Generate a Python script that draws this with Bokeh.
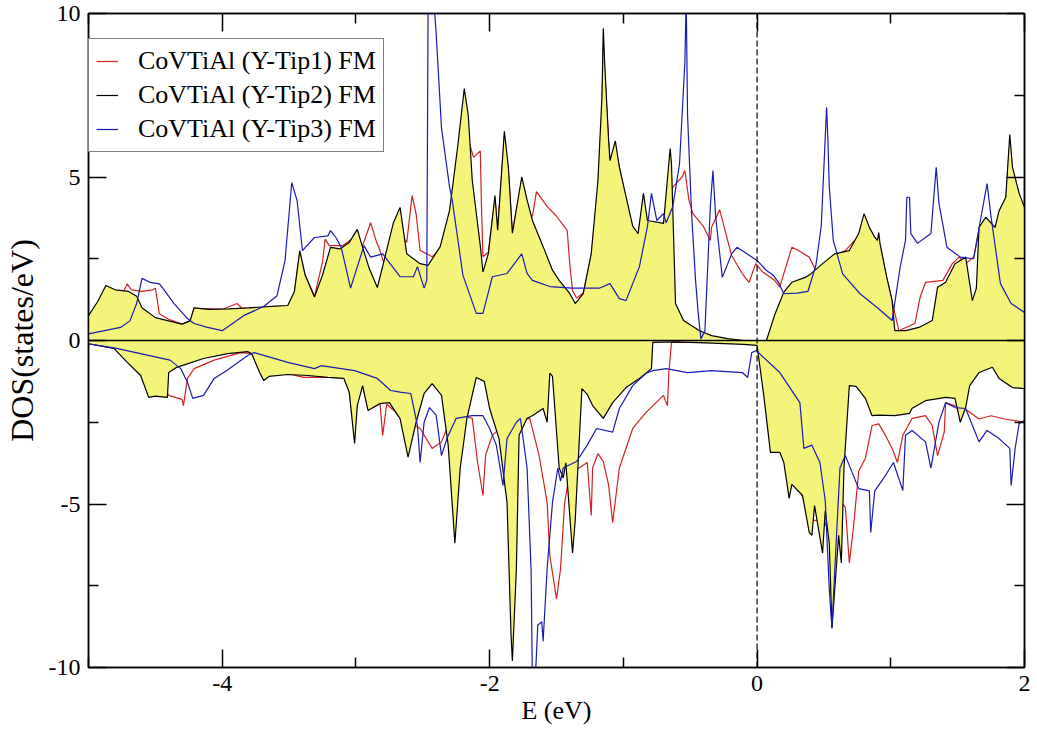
from bokeh.plotting import figure
from bokeh.models import Range1d, LinearAxis, FixedTicker, Span, Legend, LegendItem
from bokeh.embed import file_html
from bokeh.resources import INLINE

# ---------------- data ----------------
SERIES_NAMES = ["CoVTiAl (Y-Tip1) FM", "CoVTiAl (Y-Tip2) FM", "CoVTiAl (Y-Tip3) FM"]

TIP1_UP_E = [-5.00, -4.93, -4.87, -4.80, -4.74, -4.71, -4.68, -4.60, -4.52, -4.50, -4.47, -4.40, -4.30, -4.24, -4.21,
             -4.00, -3.89, -3.85, -3.60, -3.51, -3.46, -3.42, -3.38, -3.31, -3.25, -3.23, -3.20, -3.10, -3.00, -2.95,
             -2.89, -2.85, -2.82, -2.79, -2.72, -2.67, -2.62, -2.58, -2.55, -2.52, -2.47, -2.43, -2.35, -2.31, -2.28,
             -2.22, -2.15, -2.12, -2.07, -2.06, -2.05, -2.01, -1.96, -1.94, -1.89, -1.86, -1.83, -1.76, -1.72, -1.68,
             -1.65, -1.57, -1.50, -1.42, -1.40, -1.38, -1.35, -1.30, -1.24, -1.19, -1.16, -1.15, -1.13, -1.10, -1.06,
             -0.98, -0.93, -0.89, -0.85, -0.82, -0.70, -0.66, -0.63, -0.56, -0.54, -0.51, -0.48, -0.40, -0.35, -0.34,
             -0.28, -0.22, -0.19, -0.11, -0.06, -0.01, 0.04, 0.13, 0.17, 0.26, 0.31, 0.39, 0.44, 0.50, 0.58, 0.66,
             0.76, 0.80, 0.84, 0.90, 0.92, 0.97, 1.01, 1.06, 1.18, 1.22, 1.26, 1.39, 1.46, 1.51, 1.56, 1.62, 1.66,
             1.71, 1.78, 1.81, 1.86, 1.89, 1.91, 1.96, 2.00]
TIP1_UP_DOS = [0.70, 1.15, 1.60, 1.50, 1.50, 1.73, 1.55, 1.50, 1.55, 1.60, 0.82, 0.65, 0.50, 0.60, 0.98,
               0.95, 1.13, 0.98, 1.03, 1.05, 1.45, 2.70, 2.00, 1.35, 2.40, 3.10, 2.90, 2.90, 3.20, 2.90,
               3.60, 3.06, 2.75, 2.35, 2.50, 3.27, 3.00, 4.43, 3.88, 2.75, 2.65, 2.56, 2.87, 3.67, 4.40,
               5.50, 6.00, 5.60, 5.80, 3.90, 2.56, 2.70, 4.30, 3.40, 6.20, 5.20, 3.30, 4.90, 3.90, 3.80,
               4.55, 4.10, 3.80, 3.37, 2.30, 1.53, 1.30, 1.45, 2.60, 4.60, 7.00, 9.00, 7.50, 5.40, 5.90,
               4.30, 3.40, 3.20, 4.30, 3.60, 3.50, 4.20, 4.70, 5.00, 5.20, 4.30, 3.88, 3.48, 3.06, 3.46,
               4.00, 3.06, 2.60, 2.04, 1.78, 2.35, 2.10, 1.84, 1.64, 2.85, 2.75, 2.55, 2.14, 2.30, 2.60, 2.75,
               3.20, 3.80, 3.40, 3.00, 2.90, 1.90, 1.20, 0.30, 0.52, 1.33, 1.78, 1.84, 2.35, 2.55, 2.35, 2.55, 3.40,
               3.70, 3.40, 3.90, 4.30, 6.00, 5.20, 4.40, 4.00]

TIP1_DN_E = [-5.00, -4.80, -4.60, -4.50, -4.45, -4.40, -4.30, -4.29, -4.26, -4.21, -4.06, -3.86, -3.78, -3.70,
             -3.50, -3.39, -3.21, -3.09, -3.05, -3.02, -2.99, -2.95, -2.91, -2.82, -2.80, -2.77, -2.67, -2.60,
             -2.52, -2.43, -2.36, -2.30, -2.20, -2.13, -2.09, -2.05, -2.03, -1.98, -1.90, -1.80, -1.70, -1.63,
             -1.57, -1.55, -1.50, -1.47, -1.44, -1.40, -1.33, -1.27, -1.24, -1.23, -1.19, -1.15, -1.11, -1.08,
             -1.03, -0.93, -0.83, -0.70, -0.67, -0.66, -0.64, -0.30, 0.00, 0.02, 0.05, 0.10, 0.20, 0.30, 0.40,
             0.50, 0.55, 0.60, 0.64, 0.66, 0.69, 0.72, 0.76, 0.81, 0.86, 0.91, 0.96, 1.01, 1.05, 1.09, 1.16,
             1.26, 1.31, 1.35, 1.40, 1.41, 1.48, 1.56, 1.66, 1.75, 1.85, 2.00]
TIP1_DN_DOS = [-0.10, -0.24, -0.45, -0.80, -1.30, -1.68, -1.80, -1.99, -1.16, -0.86, -0.60, -0.37, -0.40, -1.05,
               -1.02, -1.13, -1.12, -1.14, -1.50, -2.60, -1.90, -1.35, -2.10, -1.90, -2.90, -1.95, -2.30, -2.50,
               -2.69, -3.30, -3.10, -2.50, -2.30, -2.38, -3.73, -4.74, -3.50, -2.90, -2.60, -2.40, -2.38, -3.52,
               -4.95, -6.58, -7.90, -7.00, -5.00, -4.00, -3.90, -3.73, -5.35, -3.90, -3.46, -3.70, -4.43, -5.57,
               -3.90, -2.69, -2.20, -1.68, -2.00, -0.98, -0.06, -0.05, -0.10, -0.40, -1.50, -3.20, -3.50, -4.30, -5.50,
               -5.50, -6.00, -5.50, -5.00, -5.10, -6.80, -5.75, -4.00, -3.60, -2.60, -2.55, -2.90, -3.30, -3.73, -2.90, -2.38,
               -2.30, -2.60, -3.52, -2.80, -1.90, -2.00, -2.10, -2.40, -2.30, -2.40, -2.50]

TIP2_UP_E = [-5.00, -4.93, -4.87, -4.80, -4.70, -4.64, -4.60, -4.50, -4.40, -4.30, -4.24, -4.21, -4.10, -3.95,
             -3.80, -3.60, -3.51, -3.46, -3.42, -3.38, -3.31, -3.25, -3.19, -3.12, -3.05, -2.99, -2.95, -2.90,
             -2.84, -2.78, -2.72, -2.67, -2.62, -2.52, -2.46, -2.37, -2.30, -2.24, -2.19, -2.16, -2.13, -2.07,
             -2.05, -2.01, -1.96, -1.94, -1.89, -1.86, -1.83, -1.76, -1.72, -1.68, -1.60, -1.53, -1.48, -1.40,
             -1.36, -1.30, -1.24, -1.19, -1.16, -1.15, -1.14, -1.11, -1.10, -1.06, -1.03, -0.98, -0.93, -0.89,
             -0.85, -0.82, -0.70, -0.65, -0.64, -0.61, -0.55, -0.43, -0.34, -0.22, -0.10, 0.07, 0.135, 0.20,
             0.26, 0.36, 0.39, 0.49, 0.58, 0.69, 0.76, 0.80, 0.84, 0.88, 0.90, 0.91, 0.92, 0.97, 1.01, 1.03,
             1.11, 1.21, 1.31, 1.35, 1.41, 1.48, 1.56, 1.61, 1.64, 1.66, 1.71, 1.78, 1.81, 1.86, 1.89, 1.90,
             1.91, 1.96, 2.00]
TIP2_UP_DOS = [0.76, 1.20, 1.68, 1.55, 1.50, 1.35, 1.00, 0.70, 0.60, 0.50, 0.60, 1.00, 0.95, 0.97,
               1.00, 1.05, 1.07, 1.50, 2.75, 2.00, 1.33, 2.00, 2.85, 2.80, 3.00, 3.40, 2.85, 2.20,
               1.62, 2.60, 3.60, 4.07, 2.65, 2.35, 2.30, 2.87, 3.97, 5.90, 7.70, 6.90, 4.90, 2.90,
               2.10, 2.65, 4.43, 3.37, 6.40, 5.30, 3.28, 5.00, 4.30, 3.67, 2.87, 2.15, 1.84, 1.43,
               1.13, 1.43, 2.66, 4.90, 7.45, 9.55, 8.50, 6.10, 5.50, 6.10, 5.30, 4.40, 3.50, 3.27,
               4.50, 3.67, 3.58, 5.87, 5.40, 1.13, 0.61, 0.30, 0.15, 0.06, 0.00, 0.00, 0.82, 1.48,
               1.78, 1.93, 2.00, 2.35, 2.65, 2.75, 3.27, 3.88, 3.46, 3.16, 3.06, 3.30, 2.95, 1.93, 1.22, 0.30,
               0.30, 0.40, 0.61, 1.63, 1.78, 2.35, 2.55, 1.22, 1.60, 3.46, 3.77, 3.46, 3.97, 4.38, 6.30, 5.80,
               5.30, 4.50, 4.07]

TIP2_DN_E = [-5.00, -4.81, -4.71, -4.61, -4.55, -4.50, -4.41, -4.40, -4.34, -4.14, -3.96, -3.81, -3.78, -3.72,
             -3.69, -3.65, -3.51, -3.36, -3.21, -3.09, -3.05, -3.01, -2.99, -2.95, -2.91, -2.82, -2.75, -2.67,
             -2.61, -2.55, -2.49, -2.43, -2.36, -2.31, -2.26, -2.22, -2.17, -2.10, -2.04, -2.00, -1.93, -1.87,
             -1.84, -1.83, -1.80, -1.78, -1.72, -1.68, -1.60, -1.57, -1.55, -1.53, -1.48, -1.45, -1.43, -1.38,
             -1.36, -1.31, -1.27, -1.23, -1.15, -1.08, -0.98, -0.88, -0.83, -0.79, -0.78, -0.60, -0.34, -0.10,
             0.00, 0.01, 0.05, 0.10, 0.17, 0.20, 0.24, 0.26, 0.34, 0.39, 0.41, 0.43, 0.49, 0.51, 0.54, 0.56,
             0.59, 0.61, 0.63, 0.65, 0.69, 0.74, 0.81, 0.86, 0.91, 1.03, 1.14, 1.16, 1.26, 1.41, 1.48, 1.52,
             1.56, 1.59, 1.66, 1.76, 1.81, 1.91, 2.00]
TIP2_DN_DOS = [-0.10, -0.24, -0.67, -1.07, -1.74, -1.70, -1.74, -0.98, -0.82, -0.55, -0.40, -0.34, -0.40, -0.98,
               -1.22, -1.10, -1.04, -1.07, -1.13, -1.16, -1.58, -3.15, -2.00, -1.38, -2.14, -1.93, -1.90, -2.39,
               -3.57, -2.50, -1.62, -1.32, -1.68, -3.20, -6.20, -3.90, -2.38, -1.13, -1.25, -2.08, -3.00, -4.95,
               -9.00, -9.80, -6.97, -2.90, -2.38, -2.30, -2.08, -2.50, -1.00, -1.10, -3.90, -4.20, -3.74, -6.50,
               -5.50, -1.47, -1.65, -1.99, -2.38, -1.90, -1.44, -1.16, -1.00, -0.86, -0.06, -0.04, -0.08, -0.12,
               -0.15, -0.46, -1.68, -3.42, -3.42, -3.73, -4.83, -4.40, -4.74, -5.87, -5.96, -5.05, -6.50, -5.20, -6.20, -8.80,
               -7.10, -5.96, -6.80, -3.90, -1.38, -1.40, -1.77, -2.30, -2.28, -2.30, -2.23, -2.07, -1.84, -1.74, -1.77, -2.50,
               -2.05, -1.38, -0.98, -0.82, -1.16, -1.44, -1.47]

TIP3_UP_E = [-5.00, -4.76, -4.69, -4.64, -4.60, -4.54, -4.47, -4.45, -4.36, -4.26, -4.21, -4.11, -4.00, -3.84,
             -3.69, -3.59, -3.53, -3.48, -3.44, -3.40, -3.31, -3.21, -3.19, -3.15, -3.11, -3.04, -2.94, -2.89,
             -2.80, -2.67, -2.57, -2.54, -2.49, -2.47, -2.46, -2.42, -2.40, -2.36, -2.30, -2.28, -2.20, -2.10,
             -2.05, -1.98, -1.87, -1.76, -1.72, -1.68, -1.55, -1.38, -1.18, -1.10, -1.03, -0.98, -0.88, -0.82,
             -0.79, -0.75, -0.70, -0.68, -0.63, -0.58, -0.54, -0.53, -0.52, -0.49, -0.46, -0.44, -0.42, -0.39,
             -0.35, -0.33, -0.31, -0.26, -0.19, -0.15, 0.00, 0.07, 0.12, 0.16, 0.20, 0.30, 0.38, 0.44, 0.48,
             0.52, 0.53, 0.54, 0.57, 0.64, 0.77, 0.90, 1.01, 1.07, 1.11, 1.12, 1.14, 1.15, 1.20, 1.30, 1.32,
             1.34, 1.36, 1.42, 1.52, 1.62, 1.67, 1.72, 1.75, 1.82, 1.90, 2.00]
TIP3_UP_DOS = [0.20, 0.40, 0.60, 1.13, 1.90, 1.78, 1.73, 1.63, 1.13, 0.67, 0.52, 0.40, 0.30, 0.76,
               1.04, 1.37, 2.45, 4.83, 4.28, 2.75, 3.15, 3.20, 3.36, 3.15, 2.85, 1.60, 2.90, 2.55,
               2.65, 1.95, 1.95, 2.26, 1.60, 1.84, 10.5, 10.5, 9.40, 6.50, 4.70, 4.30, 2.00, 0.83,
               0.83, 1.95, 2.05, 2.65, 2.05, 1.84, 1.65, 1.60, 1.60, 1.74, 1.28, 1.22, 2.26, 3.48,
               4.50, 3.67, 3.88, 3.60, 4.10, 5.40, 8.50, 10.5, 6.90, 3.90, 1.84, 0.82, 0.05, 0.30,
               4.07, 5.20, 3.80, 1.93, 2.65, 2.85, 2.45, 2.14, 2.00, 1.78, 1.43, 1.45, 1.50, 2.30, 3.50,
               7.13, 6.10, 4.70, 3.06, 2.04, 1.43, 1.00, 0.61, 2.24, 3.06, 4.38, 4.38, 3.27, 2.97, 3.27, 4.30,
               5.30, 4.20, 2.85, 2.55, 2.50, 3.67, 4.80, 3.78, 1.74, 1.13, 0.86]

TIP3_DN_E = [-5.00, -4.79, -4.39, -4.31, -4.26, -4.22, -4.14, -4.06, -3.96, -3.81, -3.76, -3.51, -3.31, -3.26,
             -3.01, -2.84, -2.74, -2.67, -2.59, -2.54, -2.52, -2.49, -2.45, -2.40, -2.36, -2.32, -2.25, -2.13,
             -2.05, -2.00, -1.95, -1.90, -1.87, -1.80, -1.77, -1.72, -1.69, -1.68, -1.66, -1.64, -1.61, -1.60,
             -1.57, -1.53, -1.49, -1.47, -1.45, -1.35, -1.27, -1.20, -1.08, -1.03, -0.93, -0.83, -0.78, -0.68,
             -0.52, -0.34, -0.11, -0.07, -0.04, 0.00, 0.01, 0.17, 0.32, 0.35, 0.41, 0.47, 0.51, 0.54, 0.56,
             0.59, 0.62, 0.66, 0.76, 0.84, 0.85, 0.88, 0.96, 1.02, 1.09, 1.11, 1.16, 1.26, 1.30, 1.36, 1.41,
             1.48, 1.56, 1.66, 1.72, 1.81, 1.89, 1.90, 1.93, 1.96, 2.00]
TIP3_DN_DOS = [-0.10, -0.24, -0.60, -0.86, -1.28, -1.77, -1.68, -1.16, -0.90, -0.46, -0.37, -0.67, -0.86, -0.77,
               -0.92, -1.16, -1.53, -1.58, -1.62, -2.60, -3.73, -2.50, -2.05, -2.28, -3.52, -3.00, -2.38, -2.30,
               -2.30, -2.69, -3.20, -4.43, -3.00, -2.50, -2.38, -3.90, -7.00, -10.5, -10.5, -8.70, -8.60, -9.20,
               -6.97, -4.95, -3.90, -4.30, -3.90, -3.70, -3.20, -2.69, -2.80, -2.08, -1.38, -1.00, -0.92, -0.86,
               -0.98, -0.92, -0.98, -1.13, -0.37, -0.30, -0.37, -0.98, -1.90, -3.30, -3.20, -3.73, -4.90, -7.60, -8.80,
               -6.30, -3.90, -3.52, -4.53, -4.60, -5.87, -4.60, -4.13, -3.73, -4.59, -2.90, -2.75, -3.10, -3.90, -2.50, -1.90,
               -2.05, -2.08, -3.10, -2.75, -3.00, -3.30, -4.43, -3.30, -2.54, -2.45]

X_MAJOR = [-4, -2, 0, 2]
X_MINOR = [-5, -3, -1, 1]
X_TICK_LABELS = ["-4", "-2", "0", "2"]
Y_MAJOR = [-10, -5, 0, 5, 10]
Y_MINOR = [-7.5, -2.5, 2.5, 7.5]
Y_TICK_LABELS = ["-10", "-5", "0", "5", "10"]

# ---------------- styling ----------------
FONT = "Liberation Serif"
RED = "#d42020"
BLACK = "#000000"
BLUE = "#1a1ab4"
YELLOW = "#f4f47a"

p = figure(width=1030, height=733, x_range=Range1d(-5, 2), y_range=Range1d(-10, 10),
           output_backend="svg", toolbar_location=None,
           min_border_left=88, min_border_right=6, min_border_top=13, min_border_bottom=66,
           x_axis_label="E (eV)", y_axis_label="DOS(states/eV)")
p.grid.visible = False
p.outline_line_color = "black"
p.outline_line_width = 1.5
p.background_fill_color = "white"
p.border_fill_color = "white"


def style_axis(ax, major, minor, labels, show_labels):
    ax.ticker = FixedTicker(ticks=major, minor_ticks=minor)
    ax.major_tick_in = 18
    ax.major_tick_out = 0
    ax.minor_tick_in = 10
    ax.minor_tick_out = 0
    ax.major_tick_line_width = 1.5
    ax.minor_tick_line_width = 1.5
    ax.major_tick_line_color = "black"
    ax.minor_tick_line_color = "black"
    ax.axis_line_color = "black"
    ax.axis_line_width = 1.5
    ax.major_label_text_font = FONT
    ax.major_label_text_color = "black"
    if show_labels:
        ax.major_label_overrides = {t: s for t, s in zip(major, labels)}
        ax.major_label_text_font_size = "24px"
        ax.major_label_standoff = 8
    else:
        ax.major_label_overrides = {t: "" for t in major}
        ax.major_label_text_font_size = "2px"
        ax.major_label_standoff = 0


style_axis(p.xaxis[0], X_MAJOR, X_MINOR, X_TICK_LABELS, True)
style_axis(p.yaxis[0], Y_MAJOR, Y_MINOR, Y_TICK_LABELS, True)
for ax in (p.xaxis[0], p.yaxis[0]):
    ax.axis_label_text_font = FONT
    ax.axis_label_text_font_style = "normal"
    ax.axis_label_text_color = "black"
p.xaxis[0].axis_label_text_font_size = "26px"
p.yaxis[0].axis_label_text_font_size = "32px"
p.xaxis[0].axis_label_standoff = 2
p.yaxis[0].axis_label_standoff = 6

top_ax = LinearAxis()
style_axis(top_ax, X_MAJOR, X_MINOR, X_TICK_LABELS, False)
p.add_layout(top_ax, "above")
right_ax = LinearAxis()
style_axis(right_ax, Y_MAJOR, Y_MINOR, Y_TICK_LABELS, False)
p.add_layout(right_ax, "right")

# Tip1 (red) first, so the yellow fill sits over it
r1u = p.line(TIP1_UP_E, TIP1_UP_DOS, line_color=RED, line_width=1.2)
r1d = p.line(TIP1_DN_E, TIP1_DN_DOS, line_color=RED, line_width=1.2)
# Tip2 filled areas
p.varea(x=TIP2_UP_E, y1=0, y2=TIP2_UP_DOS, fill_color=YELLOW)
p.varea(x=TIP2_DN_E, y1=TIP2_DN_DOS, y2=0, fill_color=YELLOW)
r2u = p.line(TIP2_UP_E, TIP2_UP_DOS, line_color=BLACK, line_width=1.2)
r2d = p.line(TIP2_DN_E, TIP2_DN_DOS, line_color=BLACK, line_width=1.2)
# Tip3 (blue)
r3u = p.line(TIP3_UP_E, TIP3_UP_DOS, line_color=BLUE, line_width=1.2)
r3d = p.line(TIP3_DN_E, TIP3_DN_DOS, line_color=BLUE, line_width=1.2)

# zero line and Fermi level
p.add_layout(Span(location=0, dimension="width", line_color="black", line_width=1.5))
p.add_layout(Span(location=0, dimension="height", line_color="black", line_width=1.2, line_dash="6 3"))

legend = Legend(items=[LegendItem(label=SERIES_NAMES[0], renderers=[r1u]),
                       LegendItem(label=SERIES_NAMES[1], renderers=[r2u]),
                       LegendItem(label=SERIES_NAMES[2], renderers=[r3u])],
                location=(0, 515))
legend.margin = 0
legend.padding = 7
legend.spacing = 4
legend.glyph_width = 22
legend.glyph_height = 30
legend.label_height = 30
legend.label_standoff = 20
legend.label_text_font = FONT
legend.label_text_font_size = "26px"
legend.label_text_color = "black"
legend.border_line_color = "black"
legend.border_line_width = 1.5
legend.background_fill_color = "white"
legend.background_fill_alpha = 1.0
p.add_layout(legend)

open("out.html", "w").write(file_html(p, INLINE))
